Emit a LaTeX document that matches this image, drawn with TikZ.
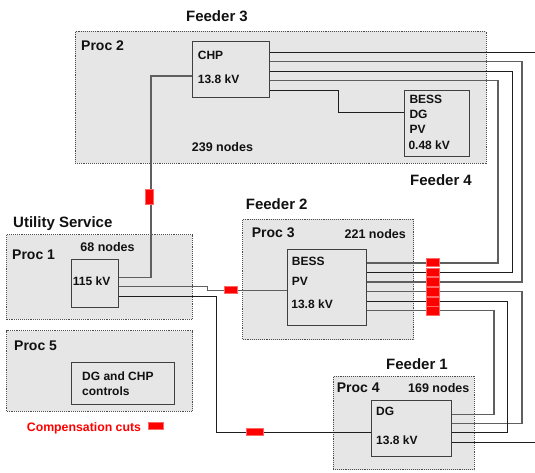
\documentclass[tikz,border=0pt]{standalone}
\usepackage{fontspec}
\setmainfont{Liberation Sans}
\usetikzlibrary{calc}
\definecolor{boxfill}{RGB}{230,230,230}
\definecolor{wdark}{RGB}{30,30,30}
\definecolor{wgray}{RGB}{95,95,95}
\definecolor{cutred}{RGB}{255,0,0}
\definecolor{txt}{RGB}{17,17,17}
\begin{document}
\begin{tikzpicture}[x=1pt,y=-1pt,
  container/.style={draw=black!70, densely dotted, line width=0.9pt, fill=boxfill, anchor=north west, inner sep=0pt},
  unit/.style={draw=black!75, line width=1pt, fill=boxfill, anchor=north west, inner sep=0pt},
  title/.style={font=\fontsize{15}{17}\selectfont\bfseries, text=txt, inner sep=0pt, anchor=base},
  proclbl/.style={font=\fontsize{14}{16}\selectfont\bfseries, text=txt, inner sep=0pt, anchor=base west},
  count/.style={font=\fontsize{12.5}{14}\selectfont\bfseries, text=txt, inner sep=0pt},
  lbl/.style={font=\fontsize{12}{14}\selectfont\bfseries, text=txt, inner sep=0pt, anchor=base west},
  darkwire/.style={draw=wdark, line width=0.9pt},
  graywire/.style={draw=wgray, line width=1.5pt},
  cut/.style={fill=cutred, draw=cutred!60, line width=0.5pt, inner sep=0pt, anchor=north west}
]
\useasboundingbox (0,0) rectangle (535,472);

% containers
\node[container, minimum width=411pt, minimum height=131.5pt] (proc2) at (74.5,31) {};
\node[container, minimum width=185.4pt, minimum height=84.7pt] (proc1) at (6.3,234.3) {};
\node[container, minimum width=186pt, minimum height=80.4pt] (proc5) at (6.3,330.3) {};
\node[container, minimum width=171pt, minimum height=120.6pt] (proc3) at (242.3,218.7) {};
\node[container, minimum width=141.3pt, minimum height=93.3pt] (proc4) at (332.7,376) {};

% units
\node[unit, minimum width=76.4pt, minimum height=56pt] (chp) at (192.3,41.3) {};
\node[unit, minimum width=65pt, minimum height=66pt] (lv) at (404.3,89.7) {};
\node[unit, minimum width=46.7pt, minimum height=48pt] (util) at (71,258.7) {};
\node[unit, minimum width=103.3pt, minimum height=42pt] (ctrl) at (71,362.3) {};
\node[unit, minimum width=79.6pt, minimum height=75.4pt] (bess) at (286.7,249.3) {};
\node[unit, minimum width=79.7pt, minimum height=56.3pt] (dg) at (371.3,399.7) {};

\coordinate (edgeA) at (536,52.3);
\coordinate (edgeB) at (536,442.3);

% wires from CHP
\draw[darkwire] (chp.east |- 0,52.3) -- (edgeA);
\draw[graywire] (chp.east |- 0,61.7) -| (522,282) -- (bess.east |- 0,282);
\draw[darkwire] (chp.east |- 0,71) -| (512.5,272.5) -- (bess.east |- 0,272.5);
\draw[graywire] (chp.east |- 0,80.7) -| (497.8,262.8) -- (bess.east |- 0,262.8);
\draw[darkwire] (chp.east |- 0,90) -| (338,112.7) -- (lv.west |- 0,112.7);

% wires from BESS to DG
\draw[graywire] (bess.east |- 0,291.5) -| (522,423.3) -- (dg.east |- 0,423.3);
\draw[darkwire] (bess.east |- 0,301) -| (507.3,432.3) -- (dg.east |- 0,432.3);
\draw[graywire] (bess.east |- 0,310.3) -| (494,414.3) -- (dg.east |- 0,414.3);
\draw[darkwire] (dg.east |- 0,442.3) -- (edgeB);

% wires from utility
\draw[graywire] (util.east |- 0,277.7) -| (151,76) -- (chp.west |- 0,76);
\draw[graywire] (util.east |- 0,286.7) -| (207.3,290.7) -- (bess.west |- 0,290.7);
\draw[darkwire] (util.east |- 0,296.3) -| (216.7,432.3) -- (dg.west |- 0,432.3);

% compensation cuts
\node[cut, minimum width=7.4pt, minimum height=15pt] (c1) at (145.3,189) {};
\node[cut, minimum width=13.3pt, minimum height=7.3pt] (c2) at (224,286) {};
\node[cut, minimum width=16.7pt, minimum height=7pt] (c3) at (246,427.5) {};
\node[cut, minimum width=13.3pt, minimum height=8.6pt] (c4) at (426,257.8) {};
\node[cut, minimum width=13.3pt, minimum height=8.6pt] (c5) at (426,267.6) {};
\node[cut, minimum width=13.3pt, minimum height=8.6pt] (c6) at (426,277.4) {};
\node[cut, minimum width=13.3pt, minimum height=8.6pt] (c7) at (426,287.2) {};
\node[cut, minimum width=13.3pt, minimum height=8.6pt] (c8) at (426,297) {};
\node[cut, minimum width=13.3pt, minimum height=8.6pt] (c9) at (426,306.3) {};
\node[cut, minimum width=14.4pt, minimum height=7.3pt] (cleg) at (148.3,422) {};

% titles
\node[title] (f3) at (217,21.4) {Feeder 3};
\node[title] (f4) at (441,185.4) {Feeder 4};
\node[title, anchor=base west] (us) at (13,227.1) {Utility Service};
\node[title, anchor=base west] (f2) at (245.7,209.4) {Feeder 2};
\node[title] (f1) at (417,369.4) {Feeder 1};

% proc labels
\node[proclbl] (lp2) at (81,50.7) {Proc 2};
\node[proclbl] (lp1) at (12,259) {Proc 1};
\node[proclbl] (lp3) at (251.7,237.3) {Proc 3};
\node[proclbl] (lp5) at (14,350.7) {Proc 5};
\node[proclbl] (lp4) at (336.7,392.3) {Proc 4};

% node counts
\node[count, anchor=base west] (n239) at (191.7,151.5) {239 nodes};
\node[count, anchor=base] (n68) at (107.5,251.2) {68 nodes};
\node[count, anchor=base east] (n221) at (406,238.8) {221 nodes};
\node[count, anchor=base east] (n169) at (469.5,392.5) {169 nodes};

% unit texts
\node[lbl] (t1) at (197.7,59.1) {CHP};
\node[lbl] (t2) at (197.7,83.1) {13.8 kV};
\node[lbl] (t3) at (409.3,103.4) {BESS};
\node[lbl] (t4) at (409.3,118.4) {DG};
\node[lbl] (t5) at (409.3,133.1) {PV};
\node[lbl] (t6) at (408.3,149.1) {0.48 kV};
\node[lbl] (t7) at (72.7,285.8) {115 kV};
\node[lbl] (t8) at (291.7,265.1) {BESS};
\node[lbl] (t9) at (291.7,285.8) {PV};
\node[lbl] (t10) at (291.2,308.1) {13.8 kV};
\node[lbl] (t11) at (82,380.7) {DG and CHP};
\node[lbl] (t12) at (82,395.7) {controls};
\node[lbl] (t13) at (376,415.8) {DG};
\node[lbl] (t14) at (376,444.1) {13.8 kV};

% legend
\node[font=\fontsize{12.3}{14}\selectfont\bfseries, text=cutred, inner sep=0pt, anchor=base west] (leg) at (26.7,431.4) {Compensation cuts};
\end{tikzpicture}
\end{document}
